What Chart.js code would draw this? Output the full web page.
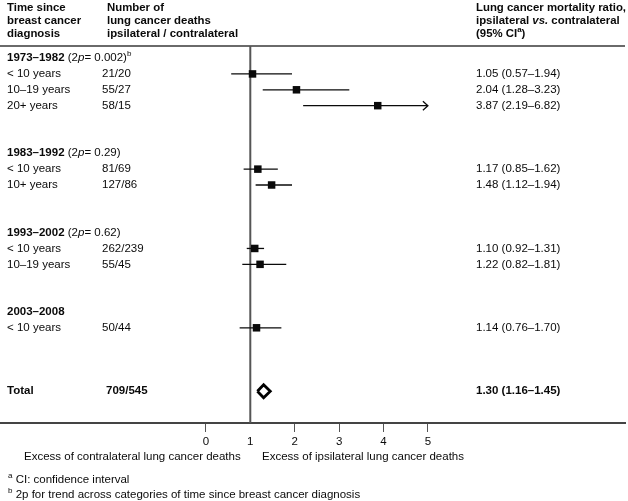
<!DOCTYPE html>
<html>
<head>
<meta charset="utf-8">
<script src="https://cdn.jsdelivr.net/npm/chart.js@4.4.1/dist/chart.umd.min.js"></script>
<style>
  html, body { margin: 0; padding: 0; background: #fff; }
  canvas { display: block; }
</style>
</head>
<body>
<canvas id="forest" width="628" height="501"></canvas>
<script>
// group headings (row numbers on the y scale)
const groupLabels = ['1973–1982', '1983–1992', '1993–2002', '2003–2008'];
const groupTrendP = ['0.002', '0.29', '0.62', null];
const groupRows = [0, 6, 11, 16];

// sub rows
const subLabels = ['< 10 years', '10–19 years', '20+ years', '< 10 years', '10+ years', '< 10 years', '10–19 years', '< 10 years'];
const subDeaths = ['21/20', '55/27', '58/15', '81/69', '127/86', '262/239', '55/45', '50/44'];
const ratios = [1.05, 2.04, 3.87, 1.17, 1.48, 1.10, 1.22, 1.14];
const ciLow = [0.57, 1.28, 2.19, 0.85, 1.12, 0.92, 0.82, 0.76];
const ciHigh = [1.94, 3.23, 6.82, 1.62, 1.94, 1.31, 1.81, 1.70];
const subRows = [1, 2, 3, 7, 8, 12, 13, 17];

// total
const totalRow = 21;
const totalDeaths = '709/545';
const totalRatio = 1.30;
const totalLow = 1.16;
const totalHigh = 1.45;

const xTicks = [0, 1, 2, 3, 4, 5];

const FONT = '"Liberation Sans", Arial, Helvetica, sans-serif';
const INK = '#0a0a0a';

function font(size, weight, style) {
    return (style || 'normal') + ' ' + (weight || 'normal') + ' ' + size + 'px ' + FONT;
}

// draw a run of text pieces with different weights / styles / superscripts
function drawRich(ctx, x, y, parts, size) {
    ctx.textBaseline = 'middle';
    ctx.textAlign = 'left';
    parts.forEach(p => {
        const s = p.sup ? 8 : size;
        ctx.font = font(s, p.b ? 'bold' : 'normal', p.i ? 'italic' : 'normal');
        ctx.fillText(p.t, x, p.sup ? y - 4 : y);
        x += ctx.measureText(p.t).width;
    });
}

const tablePlugin = {
    id: 'tablePlugin',
    beforeDatasetsDraw(chart) {
        const ctx = chart.ctx;
        const xs = chart.scales.x, ys = chart.scales.y;
        const area = chart.chartArea;
        ctx.save();
        // header rule
        ctx.strokeStyle = '#6a6a6a';
        ctx.lineWidth = 2;
        ctx.beginPath();
        ctx.moveTo(area.left, area.top);
        ctx.lineTo(area.right, area.top);
        ctx.stroke();
        // line of no effect
        const x1 = xs.getPixelForValue(1);
        ctx.strokeStyle = '#555';
        ctx.beginPath();
        ctx.moveTo(x1, area.top);
        ctx.lineTo(x1, area.bottom);
        ctx.stroke();
        // confidence intervals
        const maxX = xTicks[xTicks.length - 1];
        ctx.strokeStyle = INK;
        ctx.lineWidth = 1.3;
        ratios.forEach((r, i) => {
            const y = ys.getPixelForValue(subRows[i]);
            const a = xs.getPixelForValue(ciLow[i]);
            const b = xs.getPixelForValue(Math.min(ciHigh[i], maxX));
            ctx.beginPath();
            ctx.moveTo(a, y);
            ctx.lineTo(b, y);
            if (ciHigh[i] > maxX) {
                ctx.moveTo(b - 5, y - 4.5);
                ctx.lineTo(b, y);
                ctx.lineTo(b - 5, y + 4.5);
            }
            ctx.stroke();
        });
        ctx.restore();
    },
    afterDraw(chart) {
        const ctx = chart.ctx;
        const ys = chart.scales.y;
        const colA = 7, colB = 102, colC = 476;
        const fs = 11.5, hs = 11.4;
        ctx.save();
        ctx.fillStyle = INK;

        // column headings
        const h1 = ['Time since', 'breast cancer', 'diagnosis'];
        const h2 = ['Number of', 'lung cancer deaths', 'ipsilateral / contralateral'];
        const hy = [8, 21, 34];
        h1.forEach((t, k) => drawRich(ctx, colA, hy[k], [{t: t, b: true}], hs));
        h2.forEach((t, k) => drawRich(ctx, 107, hy[k], [{t: t, b: true}], hs));
        drawRich(ctx, colC, hy[0], [{t: 'Lung cancer mortality ratio,', b: true}], hs);
        drawRich(ctx, colC, hy[1], [{t: 'ipsilateral ', b: true}, {t: 'vs.', b: true, i: true}, {t: ' contralateral', b: true}], hs);
        drawRich(ctx, colC, hy[2], [{t: '(95% CI', b: true}, {t: 'a', b: true, sup: true}, {t: ')', b: true}], hs);

        // group headings
        groupLabels.forEach((g, k) => {
            const y = ys.getPixelForValue(groupRows[k]);
            const parts = [{t: g, b: true}];
            if (groupTrendP[k]) {
                parts.push({t: ' (2'}, {t: 'p', i: true}, {t: '= ' + groupTrendP[k] + ')'});
                if (k === 0) parts.push({t: 'b', sup: true});
            }
            drawRich(ctx, colA, y, parts, fs);
        });

        // sub rows
        subLabels.forEach((s, i) => {
            const y = ys.getPixelForValue(subRows[i]);
            drawRich(ctx, colA, y, [{t: s}], fs);
            drawRich(ctx, colB, y, [{t: subDeaths[i]}], fs);
            const txt = ratios[i].toFixed(2) + ' (' + ciLow[i].toFixed(2) + '–' + ciHigh[i].toFixed(2) + ')';
            drawRich(ctx, colC, y, [{t: txt}], fs);
        });

        // total
        const ty = ys.getPixelForValue(totalRow);
        drawRich(ctx, colA, ty, [{t: 'Total', b: true}], fs);
        drawRich(ctx, 106, ty, [{t: totalDeaths, b: true}], fs);
        drawRich(ctx, colC, ty, [{t: totalRatio.toFixed(2) + ' (' + totalLow.toFixed(2) + '–' + totalHigh.toFixed(2) + ')', b: true}], fs);

        // axis captions and footnotes
        drawRich(ctx, 24, 457, [{t: 'Excess of contralateral lung cancer deaths'}], fs);
        drawRich(ctx, 262, 457, [{t: 'Excess of ipsilateral lung cancer deaths'}], fs);
        drawRich(ctx, 8, 480, [{t: 'a', sup: true}, {t: ' CI: confidence interval'}], 11.5);
        drawRich(ctx, 8, 495, [{t: 'b', sup: true}, {t: ' 2p for trend across categories of time since breast cancer diagnosis'}], 11.5);
        ctx.restore();
    }
};

const diamondH = 0.41;
const diamond = [
    {x: totalLow, y: totalRow},
    {x: totalRatio, y: totalRow - diamondH},
    {x: totalHigh, y: totalRow},
    {x: totalRatio, y: totalRow + diamondH},
    {x: totalLow, y: totalRow}
];

new Chart(document.getElementById('forest'), {
    type: 'scatter',
    data: {
        datasets: [
            {
                data: ratios.map((r, i) => ({x: r, y: subRows[i]})),
                pointStyle: 'rect',
                pointRadius: 5.3,
                backgroundColor: INK,
                borderWidth: 0
            },
            {
                data: diamond,
                showLine: true,
                borderColor: '#000',
                borderWidth: 2.8,
                borderJoinStyle: 'miter',
                pointRadius: 0,
                fill: false,
                tension: 0
            }
        ]
    },
    options: {
        responsive: false,
        animation: false,
        devicePixelRatio: 1,
        layout: { autoPadding: false, padding: { top: 46, left: 0, right: 3, bottom: 0 } },
        plugins: { legend: { display: false }, tooltip: { enabled: false } },
        scales: {
            x: {
                type: 'linear',
                min: -4.637,
                max: 9.439,
                afterBuildTicks: s => { s.ticks = xTicks.map(v => ({value: v})); },
                afterFit: s => { s.height = 78; s.paddingLeft = 0; s.paddingRight = 0; },
                grid: {
                    drawOnChartArea: false,
                    drawTicks: true,
                    tickLength: 9,
                    lineWidth: 1,
                    color: c => (c.tick && c.tick.value === 1) ? 'rgba(0,0,0,0)' : '#555'
                },
                border: { display: true, color: '#444', width: 2 },
                ticks: {
                    autoSkip: false,
                    maxRotation: 0,
                    padding: 3,
                    color: INK,
                    font: { family: FONT, size: 11.5 }
                }
            },
            y: {
                type: 'linear',
                reverse: true,
                min: -0.76,
                max: 23,
                display: false
            }
        }
    },
    plugins: [tablePlugin]
});
</script>
</body>
</html>
